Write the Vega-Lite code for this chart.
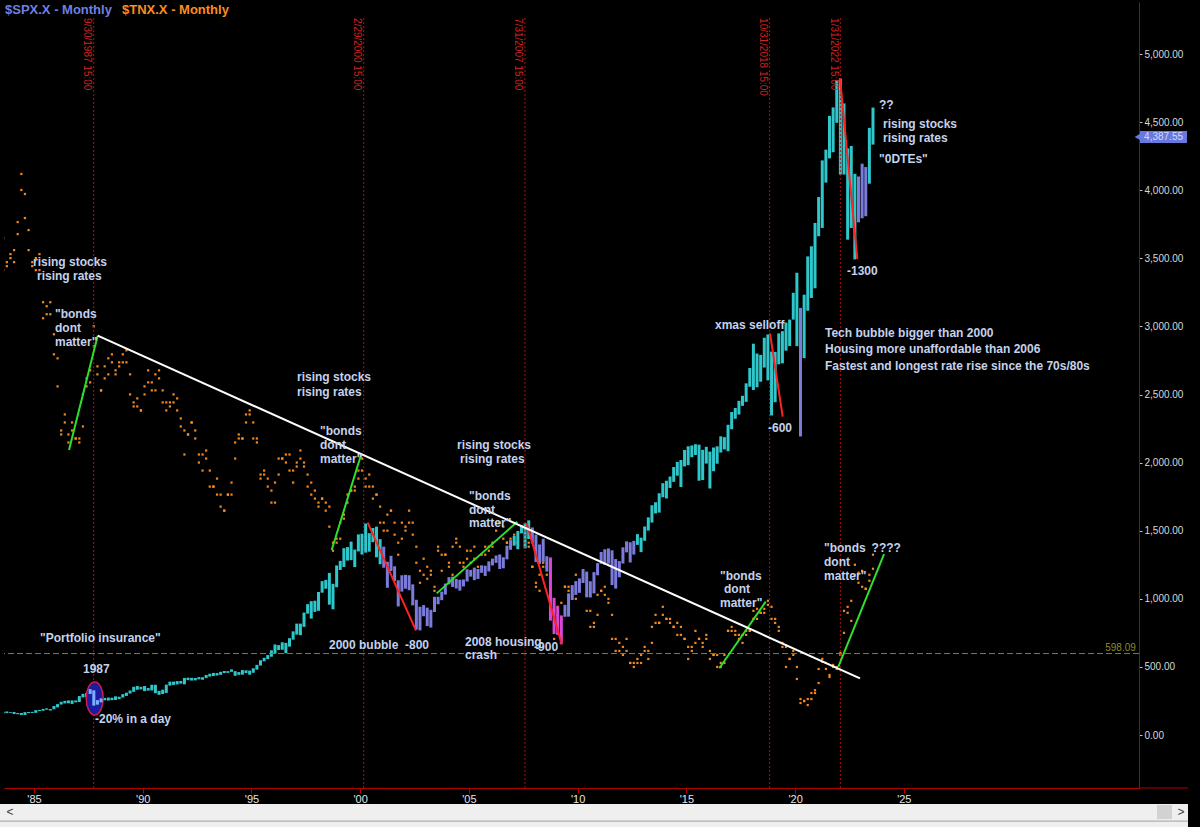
{
"$schema":"https://vega.github.io/schema/vega-lite/v6.json",
"width":1135,"height":786,
"autosize":{"type":"none"},
"padding":{"left":4,"top":2,"right":61,"bottom":39},
"background":"#000000",
"config":{"view":{"stroke":null},"axis":{"grid":false,"titleColor":"#000000","titleFontSize":1},"text":{"font":"Liberation Sans"}},
"datasets":{
"bars":[
{"t":1983.583,"h":171,"l":160,"g":"up","a":11.4,"b":12.2},
{"t":1983.75,"h":173,"l":161,"g":"up","a":11.6,"b":11.5},
{"t":1983.917,"h":168,"l":162,"g":"up","a":11.7,"b":11.8},
{"t":1984.083,"h":169,"l":154,"g":"up","a":11.6,"b":11.9},
{"t":1984.25,"h":162,"l":153,"g":"up","a":12.3,"b":12.6},
{"t":1984.417,"h":162,"l":147,"g":"up","a":13.4,"b":13.8},
{"t":1984.583,"h":168,"l":147,"g":"up","a":13.3,"b":12.7},
{"t":1984.75,"h":169,"l":161,"g":"up","a":12.4,"b":11.9},
{"t":1984.917,"h":170,"l":162,"g":"up","a":11.6,"b":11.5},
{"t":1985.083,"h":183,"l":163,"g":"up","a":11.4,"b":11.7},
{"t":1985.25,"h":184,"l":176,"g":"up","a":11.8,"b":11.4},
{"t":1985.417,"h":192,"l":178,"g":"up","a":10.6,"b":10.2},
{"t":1985.583,"h":196,"l":186,"g":"up","a":10.3,"b":10.5},
{"t":1985.75,"h":191,"l":180,"g":"up","a":10.6,"b":10.3},
{"t":1985.917,"h":213,"l":189,"g":"up","a":9.8,"b":9.3},
{"t":1986.083,"h":227,"l":203,"g":"up","a":9.2,"b":8.5},
{"t":1986.25,"h":244,"l":224,"g":"up","a":7.4,"b":7.3},
{"t":1986.417,"h":251,"l":232,"g":"up","a":7.8,"b":7.6},
{"t":1986.583,"h":254,"l":233,"g":"up","a":7.3,"b":7.1},
{"t":1986.75,"h":254,"l":228,"g":"up","a":7.6,"b":7.4},
{"t":1986.917,"h":254,"l":240,"g":"up","a":7.2,"b":7.2},
{"t":1987.083,"h":286,"l":242,"g":"up","a":7.1,"b":7.2},
{"t":1987.25,"h":302,"l":276,"g":"up","a":7.5,"b":8.3},
{"t":1987.417,"h":309,"l":279,"g":"up","a":8.7,"b":8.5},
{"t":1987.583,"h":337,"l":301,"g":"up","a":8.6,"b":8.9},
{"t":1987.75,"h":328,"l":216,"g":"up","a":9.5,"b":10.0},
{"t":1987.917,"h":256,"l":223,"g":"up","a":9.0,"b":8.8},
{"t":1988.083,"h":269,"l":240,"g":"up","a":8.4,"b":8.4},
{"t":1988.25,"h":272,"l":255,"g":"up","a":8.7,"b":9.0},
{"t":1988.417,"h":275,"l":253,"g":"up","a":9.2,"b":8.8},
{"t":1988.583,"h":274,"l":256,"g":"up","a":9.1,"b":9.3},
{"t":1988.75,"h":284,"l":257,"g":"up","a":8.9,"b":8.8},
{"t":1988.917,"h":281,"l":264,"g":"up","a":9.0,"b":9.1},
{"t":1989.083,"h":300,"l":275,"g":"up","a":9.1,"b":9.3},
{"t":1989.25,"h":311,"l":287,"g":"up","a":9.4,"b":9.1},
{"t":1989.417,"h":327,"l":305,"g":"up","a":8.8,"b":8.3},
{"t":1989.583,"h":354,"l":317,"g":"up","a":8.0,"b":8.1},
{"t":1989.75,"h":360,"l":332,"g":"up","a":8.2,"b":8.0},
{"t":1989.917,"h":354,"l":335,"g":"up","a":7.9,"b":7.9},
{"t":1990.083,"h":360,"l":322,"g":"up","a":8.3,"b":8.5},
{"t":1990.25,"h":345,"l":326,"g":"up","a":8.6,"b":8.9},
{"t":1990.417,"h":369,"l":327,"g":"up","a":8.6,"b":8.4},
{"t":1990.583,"h":369,"l":307,"g":"up","a":8.4,"b":8.8},
{"t":1990.75,"h":324,"l":295,"g":"up","a":8.9,"b":8.7},
{"t":1990.917,"h":333,"l":301,"g":"up","a":8.4,"b":8.1},
{"t":1991.083,"h":370,"l":309,"g":"up","a":8.1,"b":7.9},
{"t":1991.25,"h":392,"l":363,"g":"up","a":8.1,"b":8.0},
{"t":1991.417,"h":392,"l":368,"g":"up","a":8.1,"b":8.3},
{"t":1991.583,"h":396,"l":371,"g":"up","a":8.2,"b":7.9},
{"t":1991.75,"h":397,"l":377,"g":"up","a":7.7,"b":7.5},
{"t":1991.917,"h":419,"l":372,"g":"up","a":7.4,"b":6.8},
{"t":1992.083,"h":421,"l":403,"g":"up","a":7.3,"b":7.3},
{"t":1992.25,"h":420,"l":400,"g":"up","a":7.6,"b":7.6},
{"t":1992.417,"h":419,"l":401,"g":"up","a":7.4,"b":7.2},
{"t":1992.583,"h":425,"l":409,"g":"up","a":6.8,"b":6.6},
{"t":1992.75,"h":424,"l":406,"g":"up","a":6.4,"b":6.8},
{"t":1992.917,"h":441,"l":418,"g":"up","a":6.9,"b":6.7},
{"t":1993.083,"h":450,"l":429,"g":"up","a":6.4,"b":6.0},
{"t":1993.25,"h":456,"l":433,"g":"up","a":6.0,"b":6.0},
{"t":1993.417,"h":455,"l":437,"g":"up","a":6.2,"b":5.8},
{"t":1993.583,"h":464,"l":442,"g":"up","a":5.8,"b":5.5},
{"t":1993.75,"h":470,"l":455,"g":"up","a":5.4,"b":5.4},
{"t":1993.917,"h":469,"l":456,"g":"up","a":5.8,"b":5.8},
{"t":1994.083,"h":482,"l":464,"g":"up","a":5.8,"b":6.1},
{"t":1994.25,"h":469,"l":435,"g":"up","a":6.7,"b":7.1},
{"t":1994.417,"h":462,"l":442,"g":"up","a":7.2,"b":7.3},
{"t":1994.583,"h":477,"l":443,"g":"up","a":7.2,"b":7.2},
{"t":1994.75,"h":475,"l":455,"g":"up","a":7.6,"b":7.8},
{"t":1994.917,"h":473,"l":443,"g":"up","a":7.9,"b":7.8},
{"t":1995.083,"h":490,"l":457,"g":"up","a":7.6,"b":7.2},
{"t":1995.25,"h":515,"l":480,"g":"up","a":7.2,"b":7.1},
{"t":1995.417,"h":549,"l":510,"g":"up","a":6.3,"b":6.2},
{"t":1995.583,"h":567,"l":541,"g":"up","a":6.4,"b":6.3},
{"t":1995.75,"h":587,"l":557,"g":"up","a":6.2,"b":6.0},
{"t":1995.917,"h":622,"l":575,"g":"up","a":5.9,"b":5.6},
{"t":1996.083,"h":665,"l":597,"g":"up","a":5.6,"b":6.1},
{"t":1996.25,"h":660,"l":624,"g":"up","a":6.3,"b":6.7},
{"t":1996.417,"h":681,"l":626,"g":"up","a":6.7,"b":6.7},
{"t":1996.583,"h":677,"l":601,"g":"up","a":6.8,"b":6.6},
{"t":1996.75,"h":711,"l":649,"g":"up","a":6.8,"b":6.4},
{"t":1996.917,"h":761,"l":700,"g":"up","a":6.1,"b":6.4},
{"t":1997.083,"h":818,"l":737,"g":"up","a":6.5,"b":6.6},
{"t":1997.25,"h":818,"l":733,"g":"up","a":6.9,"b":6.7},
{"t":1997.417,"h":899,"l":794,"g":"up","a":6.6,"b":6.5},
{"t":1997.583,"h":961,"l":891,"g":"up","a":6.0,"b":6.3},
{"t":1997.75,"h":983,"l":855,"g":"up","a":6.1,"b":5.8},
{"t":1997.917,"h":986,"l":904,"g":"up","a":5.9,"b":5.7},
{"t":1998.083,"h":1050,"l":912,"g":"up","a":5.5,"b":5.6},
{"t":1998.25,"h":1130,"l":1045,"g":"up","a":5.7,"b":5.7},
{"t":1998.417,"h":1139,"l":1074,"g":"up","a":5.6,"b":5.4},
{"t":1998.583,"h":1190,"l":957,"g":"up","a":5.5,"b":5.0},
{"t":1998.75,"h":1110,"l":923,"g":"up","a":4.4,"b":4.6},
{"t":1998.917,"h":1245,"l":1085,"g":"up","a":4.7,"b":4.6},
{"t":1999.083,"h":1279,"l":1212,"g":"up","a":4.7,"b":5.1},
{"t":1999.25,"h":1372,"l":1234,"g":"up","a":5.2,"b":5.3},
{"t":1999.417,"h":1380,"l":1281,"g":"up","a":5.6,"b":5.8},
{"t":1999.583,"h":1420,"l":1284,"g":"up","a":5.9,"b":5.9},
{"t":1999.75,"h":1362,"l":1233,"g":"up","a":5.9,"b":6.0},
{"t":1999.917,"h":1473,"l":1348,"g":"up","a":6.2,"b":6.4},
{"t":2000.083,"h":1478,"l":1325,"g":"up","a":6.7,"b":6.4},
{"t":2000.25,"h":1553,"l":1339,"g":"up","a":6.0,"b":6.2},
{"t":2000.417,"h":1482,"l":1346,"g":"up","a":6.3,"b":6.0},
{"t":2000.583,"h":1520,"l":1416,"g":"up","a":6.0,"b":5.7},
{"t":2000.75,"h":1530,"l":1305,"g":"up","a":5.8,"b":5.8},
{"t":2000.917,"h":1438,"l":1254,"g":"up","a":5.5,"b":5.1},
{"t":2001.083,"h":1383,"l":1228,"g":"down","a":5.1,"b":4.9},
{"t":2001.25,"h":1272,"l":1081,"g":"down","a":4.9,"b":5.3},
{"t":2001.417,"h":1316,"l":1204,"g":"down","a":5.4,"b":5.4},
{"t":2001.583,"h":1239,"l":1131,"g":"down","a":5.1,"b":4.8},
{"t":2001.75,"h":1136,"l":944,"g":"down","a":4.6,"b":4.3},
{"t":2001.917,"h":1173,"l":1053,"g":"down","a":4.7,"b":5.1},
{"t":2002.083,"h":1176,"l":1074,"g":"down","a":5.0,"b":4.9},
{"t":2002.25,"h":1173,"l":1063,"g":"down","a":5.4,"b":5.1},
{"t":2002.417,"h":1106,"l":952,"g":"down","a":5.1,"b":4.8},
{"t":2002.583,"h":993,"l":775,"g":"down","a":4.5,"b":4.1},
{"t":2002.75,"h":942,"l":768,"g":"down","a":3.6,"b":3.9},
{"t":2002.917,"h":954,"l":872,"g":"down","a":4.2,"b":3.8},
{"t":2003.083,"h":935,"l":800,"g":"down","a":4.0,"b":3.7},
{"t":2003.25,"h":919,"l":789,"g":"down","a":3.8,"b":3.9},
{"t":2003.417,"h":1015,"l":903,"g":"down","a":3.4,"b":3.5},
{"t":2003.583,"h":1015,"l":960,"g":"down","a":4.4,"b":4.5},
{"t":2003.75,"h":1053,"l":990,"g":"down","a":3.9,"b":4.3},
{"t":2003.917,"h":1112,"l":1031,"g":"down","a":4.3,"b":4.3},
{"t":2004.083,"h":1159,"l":1106,"g":"down","a":4.1,"b":4.0},
{"t":2004.25,"h":1163,"l":1087,"g":"down","a":3.8,"b":4.5},
{"t":2004.417,"h":1146,"l":1076,"g":"down","a":4.7,"b":4.6},
{"t":2004.583,"h":1140,"l":1060,"g":"down","a":4.5,"b":4.1},
{"t":2004.75,"h":1142,"l":1091,"g":"down","a":4.1,"b":4.0},
{"t":2004.917,"h":1217,"l":1127,"g":"down","a":4.4,"b":4.2},
{"t":2005.083,"h":1212,"l":1163,"g":"down","a":4.1,"b":4.4},
{"t":2005.25,"h":1229,"l":1137,"g":"down","a":4.5,"b":4.2},
{"t":2005.417,"h":1219,"l":1146,"g":"down","a":4.0,"b":3.9},
{"t":2005.583,"h":1245,"l":1191,"g":"down","a":4.3,"b":4.0},
{"t":2005.75,"h":1243,"l":1168,"g":"down","a":4.3,"b":4.5},
{"t":2005.917,"h":1275,"l":1201,"g":"down","a":4.5,"b":4.4},
{"t":2006.083,"h":1295,"l":1245,"g":"down","a":4.5,"b":4.6},
{"t":2006.25,"h":1318,"l":1264,"g":"down","a":4.9,"b":5.1},
{"t":2006.417,"h":1326,"l":1219,"g":"down","a":5.1,"b":5.1},
{"t":2006.583,"h":1305,"l":1224,"g":"down","a":5.0,"b":4.7},
{"t":2006.75,"h":1390,"l":1290,"g":"down","a":4.6,"b":4.6},
{"t":2006.917,"h":1431,"l":1360,"g":"down","a":4.5,"b":4.7},
{"t":2007.083,"h":1461,"l":1390,"g":"up","a":4.8,"b":4.6},
{"t":2007.25,"h":1498,"l":1364,"g":"up","a":4.6,"b":4.6},
{"t":2007.417,"h":1540,"l":1481,"g":"up","a":4.9,"b":5.0},
{"t":2007.583,"h":1556,"l":1370,"g":"up","a":4.8,"b":4.5},
{"t":2007.75,"h":1576,"l":1439,"g":"up","a":4.6,"b":4.5},
{"t":2007.917,"h":1524,"l":1406,"g":"down","a":4.0,"b":4.0},
{"t":2008.083,"h":1471,"l":1270,"g":"down","a":3.6,"b":3.5},
{"t":2008.25,"h":1399,"l":1256,"g":"down","a":3.4,"b":3.8},
{"t":2008.417,"h":1441,"l":1272,"g":"down","a":4.1,"b":4.0},
{"t":2008.583,"h":1313,"l":1200,"g":"down","a":4.0,"b":3.8},
{"t":2008.75,"h":1304,"l":840,"g":"crash","a":3.8,"b":4.0},
{"t":2008.917,"h":1007,"l":741,"g":"crash","a":2.9,"b":2.2},
{"t":2009.083,"h":944,"l":735,"g":"crash","a":2.8,"b":3.0},
{"t":2009.25,"h":878,"l":666,"g":"crash","a":2.7,"b":3.1},
{"t":2009.417,"h":956,"l":868,"g":"down","a":3.5,"b":3.5},
{"t":2009.583,"h":1040,"l":869,"g":"down","a":3.5,"b":3.4},
{"t":2009.75,"h":1101,"l":991,"g":"down","a":3.3,"b":3.4},
{"t":2009.917,"h":1130,"l":1029,"g":"down","a":3.2,"b":3.8},
{"t":2010.083,"h":1150,"l":1044,"g":"down","a":3.6,"b":3.6},
{"t":2010.25,"h":1219,"l":1116,"g":"down","a":3.8,"b":3.7},
{"t":2010.417,"h":1200,"l":1011,"g":"down","a":3.3,"b":2.9},
{"t":2010.583,"h":1129,"l":1010,"g":"down","a":2.9,"b":2.5},
{"t":2010.75,"h":1196,"l":1040,"g":"down","a":2.5,"b":2.6},
{"t":2010.917,"h":1262,"l":1173,"g":"down","a":2.8,"b":3.3},
{"t":2011.083,"h":1344,"l":1257,"g":"down","a":3.4,"b":3.4},
{"t":2011.25,"h":1364,"l":1249,"g":"down","a":3.5,"b":3.3},
{"t":2011.417,"h":1370,"l":1258,"g":"down","a":3.1,"b":3.2},
{"t":2011.583,"h":1356,"l":1101,"g":"down","a":2.8,"b":2.2},
{"t":2011.75,"h":1292,"l":1075,"g":"down","a":1.9,"b":2.2},
{"t":2011.917,"h":1277,"l":1158,"g":"down","a":2.1,"b":1.9},
{"t":2012.083,"h":1378,"l":1259,"g":"down","a":1.8,"b":2.0},
{"t":2012.25,"h":1422,"l":1341,"g":"down","a":2.2,"b":1.9},
{"t":2012.417,"h":1415,"l":1267,"g":"down","a":1.6,"b":1.6},
{"t":2012.583,"h":1426,"l":1325,"g":"down","a":1.5,"b":1.6},
{"t":2012.75,"h":1475,"l":1396,"g":"up","a":1.6,"b":1.7},
{"t":2012.917,"h":1449,"l":1343,"g":"up","a":1.6,"b":1.8},
{"t":2013.083,"h":1531,"l":1426,"g":"up","a":2.0,"b":1.9},
{"t":2013.25,"h":1598,"l":1501,"g":"up","a":1.9,"b":1.7},
{"t":2013.417,"h":1687,"l":1560,"g":"up","a":2.1,"b":2.5},
{"t":2013.583,"h":1709,"l":1627,"g":"up","a":2.6,"b":2.8},
{"t":2013.75,"h":1775,"l":1633,"g":"up","a":2.6,"b":2.6},
{"t":2013.917,"h":1849,"l":1746,"g":"up","a":2.8,"b":3.0},
{"t":2014.083,"h":1867,"l":1737,"g":"up","a":2.7,"b":2.7},
{"t":2014.25,"h":1898,"l":1814,"g":"up","a":2.7,"b":2.6},
{"t":2014.417,"h":1968,"l":1859,"g":"up","a":2.5,"b":2.5},
{"t":2014.583,"h":2005,"l":1904,"g":"up","a":2.6,"b":2.3},
{"t":2014.75,"h":2019,"l":1821,"g":"up","a":2.5,"b":2.3},
{"t":2014.917,"h":2093,"l":1972,"g":"up","a":2.2,"b":2.2},
{"t":2015.083,"h":2120,"l":1981,"g":"up","a":1.7,"b":2.0},
{"t":2015.25,"h":2126,"l":2040,"g":"up","a":1.9,"b":2.0},
{"t":2015.417,"h":2135,"l":2056,"g":"up","a":2.1,"b":2.4},
{"t":2015.583,"h":2132,"l":1867,"g":"up","a":2.2,"b":2.2},
{"t":2015.75,"h":2094,"l":1872,"g":"up","a":2.0,"b":2.1},
{"t":2015.917,"h":2116,"l":1993,"g":"up","a":2.2,"b":2.3},
{"t":2016.083,"h":2081,"l":1810,"g":"up","a":1.9,"b":1.7},
{"t":2016.25,"h":2111,"l":1937,"g":"up","a":1.8,"b":1.8},
{"t":2016.417,"h":2120,"l":1992,"g":"up","a":1.8,"b":1.5},
{"t":2016.583,"h":2193,"l":2074,"g":"up","a":1.5,"b":1.6},
{"t":2016.75,"h":2187,"l":2097,"g":"up","a":1.6,"b":1.8},
{"t":2016.917,"h":2278,"l":2084,"g":"up","a":2.4,"b":2.4},
{"t":2017.083,"h":2372,"l":2245,"g":"up","a":2.5,"b":2.4},
{"t":2017.25,"h":2401,"l":2322,"g":"up","a":2.4,"b":2.3},
{"t":2017.417,"h":2454,"l":2353,"g":"up","a":2.2,"b":2.3},
{"t":2017.583,"h":2491,"l":2417,"g":"up","a":2.3,"b":2.1},
{"t":2017.75,"h":2582,"l":2446,"g":"up","a":2.3,"b":2.4},
{"t":2017.917,"h":2695,"l":2557,"g":"up","a":2.4,"b":2.4},
{"t":2018.083,"h":2873,"l":2533,"g":"up","a":2.7,"b":2.9},
{"t":2018.25,"h":2801,"l":2553,"g":"up","a":2.7,"b":2.95},
{"t":2018.417,"h":2791,"l":2594,"g":"up","a":2.85,"b":2.85},
{"t":2018.583,"h":2917,"l":2698,"g":"up","a":2.95,"b":2.85},
{"t":2018.75,"h":2941,"l":2604,"g":"up","a":3.05,"b":3.15},
{"t":2018.917,"h":2815,"l":2346,"g":"up","a":3.0,"b":2.7},
{"t":2019.083,"h":2813,"l":2444,"g":"up","a":2.6,"b":2.7},
{"t":2019.25,"h":2949,"l":2722,"g":"up","a":2.4,"b":2.5},
{"t":2019.417,"h":2965,"l":2729,"g":"up","a":2.1,"b":2.0},
{"t":2019.583,"h":3028,"l":2822,"g":"up","a":2.0,"b":1.5},
{"t":2019.75,"h":3050,"l":2856,"g":"up","a":1.7,"b":1.7},
{"t":2019.917,"h":3247,"l":3050,"g":"up","a":1.8,"b":1.9},
{"t":2020.083,"h":3394,"l":2855,"g":"up","a":1.5,"b":1.2},
{"t":2020.25,"h":3136,"l":2192,"g":"down","a":0.7,"b":0.6},
{"t":2020.417,"h":3233,"l":2767,"g":"up","a":0.65,"b":0.65},
{"t":2020.583,"h":3514,"l":3115,"g":"up","a":0.55,"b":0.7},
{"t":2020.75,"h":3588,"l":3209,"g":"up","a":0.7,"b":0.85},
{"t":2020.917,"h":3760,"l":3280,"g":"up","a":0.85,"b":0.92},
{"t":2021.083,"h":3950,"l":3662,"g":"up","a":1.1,"b":1.45},
{"t":2021.25,"h":4219,"l":3723,"g":"up","a":1.7,"b":1.63},
{"t":2021.417,"h":4298,"l":4056,"g":"up","a":1.6,"b":1.45},
{"t":2021.583,"h":4546,"l":4234,"g":"up","a":1.25,"b":1.3},
{"t":2021.75,"h":4608,"l":4279,"g":"up","a":1.5,"b":1.55},
{"t":2021.917,"h":4808,"l":4495,"g":"up","a":1.45,"b":1.5},
{"t":2022.083,"h":4819,"l":4115,"g":"up","a":1.8,"b":1.85},
{"t":2022.25,"h":4637,"l":4115,"g":"up","a":2.35,"b":2.9},
{"t":2022.417,"h":4307,"l":3637,"g":"up","a":2.85,"b":3.0},
{"t":2022.583,"h":4325,"l":3723,"g":"up","a":2.65,"b":3.15},
{"t":2022.75,"h":4120,"l":3492,"g":"up","a":3.8,"b":4.05},
{"t":2022.917,"h":4101,"l":3764,"g":"down","a":3.6,"b":3.85},
{"t":2023.083,"h":4195,"l":3794,"g":"down","a":3.5,"b":3.9},
{"t":2023.25,"h":4170,"l":3809,"g":"down","a":3.45,"b":3.45},
{"t":2023.417,"h":4458,"l":4048,"g":"up","a":3.65,"b":3.8},
{"t":2023.583,"h":4607,"l":4335,"g":"up","a":3.95,"b":4.3}
],
"notes":[
{"t":1984.954,"v":3473,"label":"rising stocks"},
{"t":1985.138,"v":3370,"label":"rising rates"},
{"t":1985.966,"v":3091,"label":"\"bonds"},
{"t":1985.966,"v":2988,"label":"dont"},
{"t":1985.966,"v":2885,"label":"matter\""},
{"t":1997.095,"v":2628,"label":"rising stocks"},
{"t":1997.095,"v":2518,"label":"rising rates"},
{"t":1998.152,"v":2232,"label":"\"bonds"},
{"t":1998.152,"v":2129,"label":"dont"},
{"t":1998.152,"v":2026,"label":"matter\""},
{"t":2004.453,"v":2129,"label":"rising stocks"},
{"t":2004.591,"v":2026,"label":"rising rates"},
{"t":2005.005,"v":1755,"label":"\"bonds"},
{"t":2005.005,"v":1652,"label":"dont"},
{"t":2005.005,"v":1557,"label":"matter\""},
{"t":1998.566,"v":661,"label":"2000 bubble"},
{"t":2002.061,"v":661,"label":"-800"},
{"t":2007.995,"v":646,"label":"-900"},
{"t":2004.821,"v":683,"label":"2008 housing"},
{"t":2004.821,"v":587,"label":"crash"},
{"t":1985.276,"v":712,"label":"\"Portfolio insurance\""},
{"t":1987.253,"v":485,"label":"1987"},
{"t":1987.805,"v":117,"label":"-20% in a day"},
{"t":2016.318,"v":3010,"label":"xmas selloff"},
{"t":2018.755,"v":2254,"label":"-600"},
{"t":2021.376,"v":2952,"label":"Tech bubble bigger than 2000"},
{"t":2021.376,"v":2834,"label":"Housing more unaffordable than 2006"},
{"t":2021.376,"v":2709,"label":"Fastest and longest rate rise since the 70s/80s"},
{"t":2016.547,"v":1167,"label":"\"bonds"},
{"t":2016.731,"v":1072,"label":"dont"},
{"t":2016.547,"v":969,"label":"matter\""},
{"t":2021.33,"v":1373,"label":"\"bonds"},
{"t":2023.52,"v":1373,"label":"????"},
{"t":2021.33,"v":1270,"label":"dont"},
{"t":2021.33,"v":1167,"label":"matter\""},
{"t":2022.387,"v":3407,"label":"-1300"},
{"t":2023.86,"v":4626,"label":"??"},
{"t":2024.044,"v":4486,"label":"rising stocks"},
{"t":2024.044,"v":4383,"label":"rising rates"},
{"t":2023.86,"v":4229,"label":"\"0DTEs\""}
],
"segs":[
{"t1":1986.61,"v1":2093,"t2":1987.929,"v2":2932,"kind":"bonds"},
{"t1":1998.69,"v1":1358,"t2":2000.038,"v2":2056,"kind":"bonds"},
{"t1":2003.519,"v1":1040,"t2":2007.226,"v2":1566,"kind":"bonds"},
{"t1":2016.515,"v1":490,"t2":2018.649,"v2":979,"kind":"bonds"},
{"t1":2021.988,"v1":501,"t2":2024.09,"v2":1329,"kind":"bonds"},
{"t1":2000.346,"v1":1559,"t2":2002.567,"v2":766,"kind":"drawdown"},
{"t1":2007.658,"v1":1554,"t2":2009.268,"v2":668,"kind":"drawdown"},
{"t1":2018.847,"v1":2949,"t2":2019.431,"v2":2337,"kind":"drawdown"},
{"t1":2022.066,"v1":4822,"t2":2022.862,"v2":3495,"kind":"drawdown"},
{"t1":1987.929,"v1":2932,"t2":2022.986,"v2":416,"kind":"trendline"}
],
"events":[
{"t":1987.745,"label":"9/30/1987 15:00"},
{"t":2000.161,"label":"2/29/2000 15:00"},
{"t":2007.578,"label":"7/31/2007 15:00"},
{"t":2018.83,"label":"10/31/2018 15:00"},
{"t":2022.082,"label":"1/31/2022 15:00"}
]
},
"layer":[
{
"data":{"name":"bars"},
"transform":[{"fold":["a","b"],"as":["k","yv"]}],
"mark":{"type":"square","size":5,"color":"#ff8c1e","opacity":0.95,"clip":true},
"encoding":{
"x":{"field":"t","type":"quantitative","scale":{"domain":[1983.62,2035.816],"nice":false,"zero":false}},
"y":{"field":"yv","type":"quantitative","scale":{"domain":[-1.52,18.09],"nice":false,"zero":false},"axis":null}
}
},
{
"layer":[
{
"data":{"name":"bars"},
"mark":{"type":"rule","strokeWidth":3,"clip":true},
"encoding":{
"x":{"field":"t","type":"quantitative","scale":{"domain":[1983.62,2035.816],"nice":false,"zero":false},
"axis":{"orient":"bottom","title":null,"values":[1985,1990,1995,2000,2005,2010,2015,2020,2025],"labelExpr":"\"'\" + substring(toString(datum.value),2,4)","domainColor":"#b00000","domainWidth":1,"tickColor":"#c00000","tickSize":5,"labelColor":"#e6e6e6","labelFont":"Liberation Sans","labelFontSize":11,"labelPadding":0,"labelFlush":false,"labelOverlap":false}},
"y":{"field":"l","type":"quantitative","scale":{"domain":[-389,5382],"nice":false,"zero":false},
"axis":{"orient":"right","title":null,"values":[0,500,1000,1500,2000,2500,3000,3500,4000,4500,5000],"format":",.2f","domainColor":"#b00000","domainWidth":1,"tickColor":"#c8c8c8","tickSize":3,"labelColor":"#d8d8d8","labelFont":"Liberation Sans","labelFontSize":10,"labelPadding":2,"labelFlush":false}},
"y2":{"field":"h"},
"color":{"field":"g","type":"nominal","scale":{"domain":["up","down","crash"],"range":["#2ec8cc","#7b7bdb","#d848d8"]},"legend":null}
}
},
{
"data":{"values":[{}]},
"mark":{"type":"rule","color":"#84841e","strokeDash":[6,3],"strokeWidth":1},
"encoding":{"y":{"datum":598.09,"type":"quantitative"}}
},
{
"data":{"name":"events"},
"mark":{"type":"rule","color":"#b41010","strokeDash":[2,2],"strokeWidth":1},
"encoding":{
"x":{"field":"t","type":"quantitative"},
"y":{"datum":5264,"type":"quantitative"},
"y2":{"datum":-389}
}
},
{
"data":{"name":"events"},
"mark":{"type":"text","angle":90,"align":"left","baseline":"top","dy":1.5,"fontSize":10,"color":"#d42020","font":"Liberation Sans"},
"encoding":{
"x":{"field":"t","type":"quantitative"},
"y":{"datum":5264,"type":"quantitative"},
"text":{"field":"label"}
}
},
{
"data":{"values":[{}]},
"mark":{"type":"point","shape":"M0,-1 C0.2844,-1 0.515,-0.5523 0.515,0 C0.515,0.5523 0.2844,1 0,1 C-0.2844,1 -0.515,0.5523 -0.515,0 C-0.515,-0.5523 -0.2844,-1 0,-1 Z","size":1089,"filled":true,"fill":"#1c1ca0","stroke":"#c8204c","strokeWidth":1.5,"opacity":1},
"encoding":{
"x":{"datum":1987.791,"type":"quantitative"},
"y":{"datum":269,"type":"quantitative"}
}
},
{
"data":{"name":"bars"},
"transform":[{"filter":"datum.t > 1987.5 && datum.t < 1988.1"}],
"mark":{"type":"rule","strokeWidth":3,"clip":true,"color":"#7fb0ff"},
"encoding":{
"x":{"field":"t","type":"quantitative"},
"y":{"field":"l","type":"quantitative"},
"y2":{"field":"h"}
}
},
{
"data":{"name":"segs"},
"mark":{"type":"rule","strokeWidth":2,"clip":true},
"encoding":{
"x":{"field":"t1","type":"quantitative"},
"x2":{"field":"t2"},
"y":{"field":"v1","type":"quantitative"},
"y2":{"field":"v2"},
"stroke":{"field":"kind","type":"nominal","scale":{"domain":["trendline","bonds","drawdown"],"range":["#ffffff","#2ee02e","#ff2222"]},"legend":null}
}
},
{
"data":{"name":"notes"},
"mark":{"type":"text","align":"left","baseline":"middle","font":"Liberation Sans","fontWeight":"bold","fontSize":12,"color":"#c4d2ee"},
"encoding":{
"x":{"field":"t","type":"quantitative"},
"y":{"field":"v","type":"quantitative"},
"text":{"field":"label"}
}
},
{
"data":{"values":[{}]},
"mark":{"type":"text","text":"$SPX.X - Monthly","align":"left","baseline":"middle","font":"Liberation Sans","fontWeight":"bold","fontSize":13,"color":"#6f7fe8"},
"encoding":{"x":{"datum":1983.666,"type":"quantitative"},"y":{"datum":5323,"type":"quantitative"}}
},
{
"data":{"values":[{}]},
"mark":{"type":"text","text":"$TNX.X - Monthly","align":"left","baseline":"middle","font":"Liberation Sans","fontWeight":"bold","fontSize":13,"color":"#ff8c1a"},
"encoding":{"x":{"datum":1989.047,"type":"quantitative"},"y":{"datum":5323,"type":"quantitative"}}
},
{
"data":{"values":[{}]},
"mark":{"type":"text","text":"598.09","align":"right","baseline":"bottom","dy":-1,"font":"Liberation Sans","fontSize":10,"color":"#8c8c2a"},
"encoding":{"x":{"datum":2035.67,"type":"quantitative"},"y":{"datum":598.09,"type":"quantitative"}}
},
{
"data":{"values":[{}]},
"mark":{"type":"rect","color":"#6878dc","clip":false},
"encoding":{"x":{"datum":2035.862,"type":"quantitative"},"x2":{"datum":2038.023},"y":{"datum":4435,"type":"quantitative"},"y2":{"datum":4347}}
},
{
"data":{"values":[{}]},
"mark":{"type":"point","shape":"triangle-left","size":60,"filled":true,"color":"#6878dc","opacity":1,"clip":false},
"encoding":{"x":{"datum":2035.77,"type":"quantitative"},"y":{"datum":4391,"type":"quantitative"}}
},
{
"data":{"values":[{}]},
"mark":{"type":"text","text":"4,387.55","align":"left","baseline":"middle","font":"Liberation Sans","fontSize":10,"color":"#d4d8ff"},
"encoding":{"x":{"datum":2036.05,"type":"quantitative"},"y":{"datum":4391,"type":"quantitative"}}
},
{
"data":{"values":[{}]},
"mark":{"type":"rect","color":"#efefef","clip":false},
"encoding":{"x":{"datum":1983.436,"type":"quantitative"},"x2":{"datum":2038.07},"y":{"datum":-507,"type":"quantitative"},"y2":{"datum":-676}}
},
{
"data":{"values":[{}]},
"mark":{"type":"rect","color":"#d2d2d2","clip":false},
"encoding":{"x":{"datum":2036.644,"type":"quantitative"},"x2":{"datum":2037.334},"y":{"datum":-514,"type":"quantitative"},"y2":{"datum":-617}}
},
{
"data":{"values":[{}]},
"mark":{"type":"rule","color":"#a0a0a0","strokeWidth":1,"clip":false},
"encoding":{"x":{"datum":1983.436,"type":"quantitative"},"x2":{"datum":2038.07},"y":{"datum":-632,"type":"quantitative"}}
},
{
"data":{"values":[{}]},
"mark":{"type":"text","text":"<","align":"center","baseline":"middle","font":"Liberation Sans","fontSize":12,"color":"#404040"},
"encoding":{"x":{"datum":1983.896,"type":"quantitative"},"y":{"datum":-565,"type":"quantitative"}}
},
{
"data":{"values":[{}]},
"mark":{"type":"text","text":">","align":"center","baseline":"middle","font":"Liberation Sans","fontSize":12,"color":"#404040"},
"encoding":{"x":{"datum":2037.749,"type":"quantitative"},"y":{"datum":-565,"type":"quantitative"}}
},
{
"data":{"values":[{}]},
"mark":{"type":"rule","color":"#b00000","strokeWidth":1,"clip":false},
"encoding":{"x":{"datum":2035.816,"type":"quantitative"},"x2":{"datum":2038.07},"y":{"datum":-389,"type":"quantitative"}}
}
]
}
],
"resolve":{"scale":{"y":"independent"}}
}
